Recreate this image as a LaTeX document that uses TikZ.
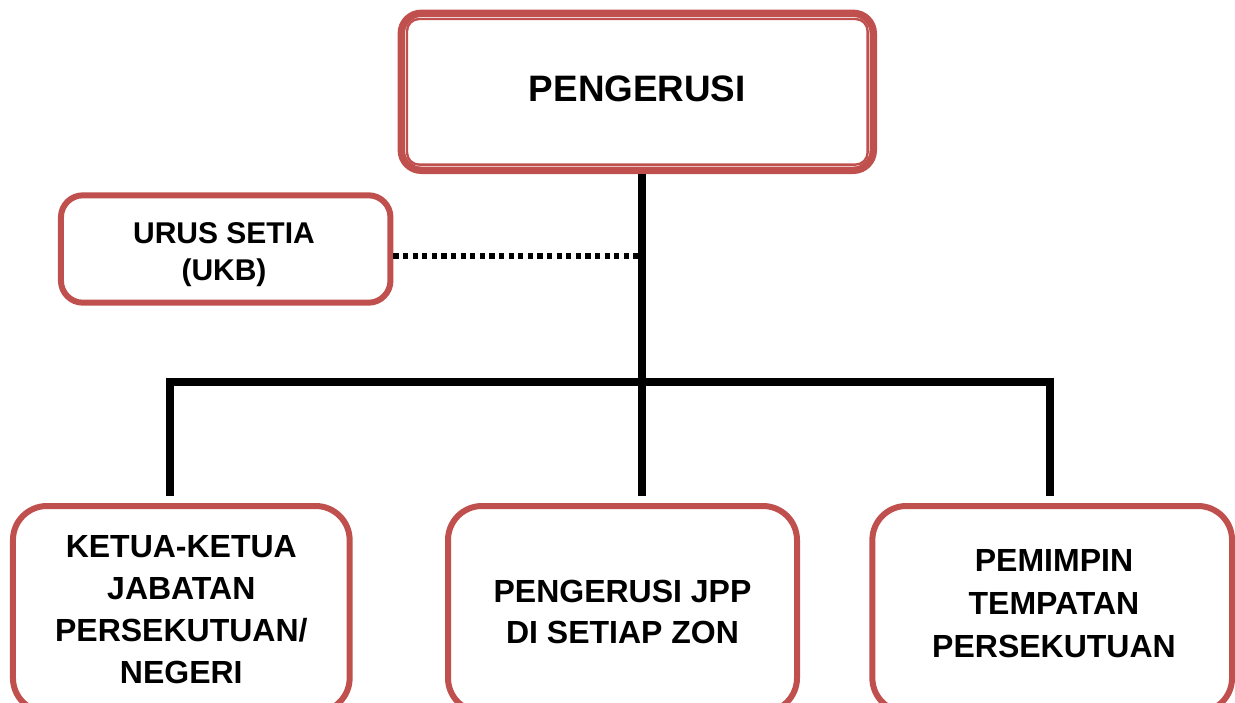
\documentclass[tikz,border=0pt]{standalone}
\usepackage{fontspec}
\setmainfont{Liberation Sans}
\definecolor{boxred}{HTML}{C0504D}
\tikzset{
  topbox/.style={draw=boxred, line width=7.4pt, rounded corners=20pt, minimum width=472pt, minimum height=157pt, inner sep=0pt},
  sidebox/.style={draw=boxred, line width=6pt, rounded corners=22pt, minimum width=329.5pt, minimum height=107.4pt, inner sep=0pt},
  lowbox/.style={draw=boxred, line width=6pt, rounded corners=34pt, minimum height=206pt, inner sep=0pt},
  bigtxt/.style={font=\fontsize{36.8}{40}\selectfont\bfseries, inner sep=0pt},
  sidetxt/.style={font=\fontsize{30}{37}\selectfont\bfseries, align=center, inner sep=0pt},
  lowtxt/.style={font=\fontsize{32}{42}\selectfont\bfseries, align=center, inner sep=0pt},
  connector/.style={line width=8pt},
  dotline/.style={line width=5.7pt, dash pattern=on 5.2pt off 4.4pt}
}
\begin{document}
\begin{tikzpicture}[x=1pt,y=-1pt]
\useasboundingbox (0,0) rectangle (1235,702);
\clip (0,0) rectangle (1235,702);

% boxes
\node[topbox] (chair) at (637.3,91.8) {};
\draw[boxred, line width=2.4pt, rounded corners=12pt]
  ([shift={(9.4,9.4)}]chair.north west) rectangle ([shift={(-9.4,-9.4)}]chair.south east);
\node[sidebox] (urus) at (225.7,249) {};
\node[lowbox, minimum width=336.7pt] (ketua) at (181.3,609) {};
\node[lowbox, minimum width=349pt] (jpp) at (622.5,609) {};
\node[lowbox, minimum width=359.7pt] (pemimpin) at (1052.2,609) {};

% texts
\node[bigtxt] (chairtxt) at (637.3,88.8) {PENGERUSI};
\node[sidetxt] (urustxt) at (224,255) {URUS SETIA\\(UKB)};
\node[lowtxt] (ketuatxt) at (181.3,609.2) {KETUA-KETUA\\JABATAN\\PERSEKUTUAN/\\NEGERI};
\node[lowtxt, font=\fontsize{32}{41}\selectfont\bfseries] (jpptxt) at (622.5,612.2) {PENGERUSI JPP\\DI SETIAP ZON};
\node[lowtxt, font=\fontsize{32}{43}\selectfont\bfseries] (pemimpintxt) at (1054,603.3) {PEMIMPIN\\TEMPATAN\\PERSEKUTUAN};

% connectors
\coordinate (jn) at (641.7,381.7);
\coordinate (dotend) at (641.7,256);
\coordinate (dropL) at (169.5,496);
\coordinate (dropM) at (641.7,496);
\coordinate (dropR) at (1049.7,496);

\draw[dotline] (urus.east |- dotend) -- (dotend);
\draw[connector] (chair.south -| jn) -- (dropM);
\draw[connector] (dropL) |- (jn) -| (dropR);
\end{tikzpicture}
\end{document}
